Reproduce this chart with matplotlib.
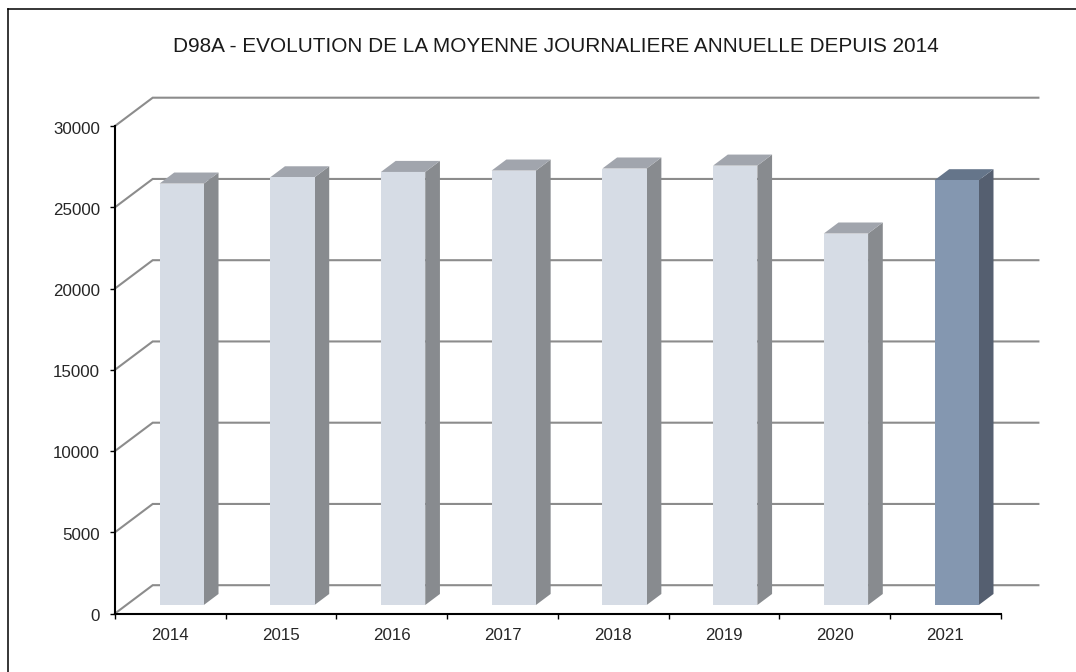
import matplotlib
matplotlib.use("Agg")
import matplotlib.pyplot as plt
from matplotlib.lines import Line2D
from matplotlib.patches import Polygon
from matplotlib.transforms import ScaledTranslation

plt.rcParams['font.family'] = ['Liberation Sans', 'DejaVu Sans']

years = ['2014', '2015', '2016', '2017', '2018', '2019', '2020', '2021']
values = [25935, 26320, 26650, 26735, 26860, 27040, 22860, 26140]
y_ticks = [0, 5000, 10000, 15000, 20000, 25000, 30000]
title = 'D98A - EVOLUTION DE LA MOYENNE JOURNALIERE ANNUELLE DEPUIS 2014'

W, H = 1076, 672
fig = plt.figure(figsize=(W / 100, H / 100), dpi=100, facecolor='white')
L, R, T, B = 115.0, 1000.7, 126.0, 613.5
ax = fig.add_axes([L / W, 1 - B / H, (R - L) / W, (B - T) / H])
ax.set_xlim(0, len(years))
ax.set_ylim(0, 30000)
ax.patch.set_visible(False)

# oblique projection offsets in data units
DX = 37.7 / ((R - L) / len(years))
DY = 28.3 / ((B - T) / 30000)

GRID = '#8C8C8C'
for v in y_ticks:
    xs, ys = [0, DX, len(years) + DX], [v, v + DY, v + DY]
    ax.plot(xs, ys, color=GRID, lw=1.5, zorder=1, clip_on=False, solid_joinstyle='miter')

d0, d1 = 0.30, 0.69
bw = 0.40
for i, v in enumerate(values):
    last = i == len(years) - 1
    front = '#8497B0' if last else '#D6DCE5'
    side = '#555F70' if last else '#888B8F'
    top = '#65758A' if last else '#A1A5AD'
    x0 = i + 0.30 + d0 * DX
    x1 = x0 + bw
    y0 = d0 * DY
    y1 = v + d0 * DY
    sx = (d1 - d0) * DX
    sy = (d1 - d0) * DY
    ax.add_patch(Polygon([(x1, y0), (x1 + sx, y0 + sy), (x1 + sx, y1 + sy), (x1, y1)],
                         closed=True, fc=side, ec='none', zorder=3, clip_on=False))
    ax.add_patch(Polygon([(x0, y1), (x1, y1), (x1 + sx, y1 + sy), (x0 + sx, y1 + sy)],
                         closed=True, fc=top, ec='none', zorder=3, clip_on=False))
    ax.bar(x0 + bw / 2, v, width=bw, bottom=y0, color=front, edgecolor='none', zorder=4)

for s in ('top', 'right'):
    ax.spines[s].set_visible(False)
for s in ('left', 'bottom'):
    ax.spines[s].set_linewidth(1.5)
    ax.spines[s].set_color('black')
    ax.spines[s].set_zorder(5)

ax.set_yticks(y_ticks)
ax.set_yticklabels([str(v) for v in y_ticks])
ax.set_xticks(range(len(years) + 1))
ax.set_xticklabels([])
ax.tick_params(axis='both', length=3.5, width=1, color='black', labelsize=12.2, labelcolor='#262626')
ax.tick_params(axis='y', pad=7.3)
shift = ScaledTranslation(0, -1.5 / 100, fig.dpi_scale_trans)
for lab in ax.get_yticklabels():
    lab.set_transform(lab.get_transform() + shift)
for i, yr in enumerate(years):
    ax.annotate(yr, (i + 0.5, 0), xytext=(0, -22), textcoords='offset pixels',
                ha='center', va='center', fontsize=12.2, color='#262626', annotation_clip=False)

fig.text(556 / W, 1 - 52.5 / H, title, ha='center', va='baseline', fontsize=14.95, color='#1a1a1a')

fig.add_artist(Line2D([7.5 / W, 1], [1 - 8.5 / H, 1 - 8.5 / H], color='black', lw=1.1, transform=fig.transFigure))
fig.add_artist(Line2D([7.5 / W, 7.5 / W], [0, 1 - 8.5 / H], color='black', lw=1.1, transform=fig.transFigure))

fig.savefig('out.png', dpi=100)
